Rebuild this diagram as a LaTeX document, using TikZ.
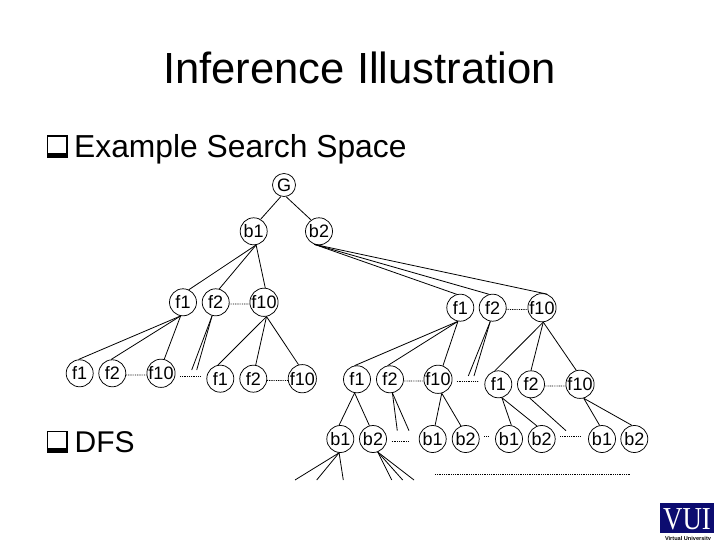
\documentclass[tikz,border=0pt]{standalone}
\usepackage{fontspec}
\setmainfont{Liberation Sans}
\newfontfamily\logoserif{Liberation Serif}
\definecolor{logonavy}{RGB}{12,12,112}
\tikzset{
  x=1pt,y=-1pt,
  tn/.style={circle,draw=black,line width=0.75pt,minimum size=27pt,inner sep=0pt,font=\fontsize{18}{20}\selectfont},
  edge/.style={draw=black,line width=0.8pt},
  dots/.style={draw=black,line width=0.8pt,dash pattern=on 0.9pt off 0.9pt},
  headline/.style={inner sep=0pt,anchor=base west},
}
\begin{document}
\begin{tikzpicture}
\useasboundingbox (0,0) rectangle (720,540);
% text
\node[inner sep=0pt,anchor=base] (title) at (359.5,84) {\fontsize{43.6}{46}\selectfont Inference Illustration};
\node[headline] (h1) at (74,158) {\fontsize{31.8}{34}\selectfont Example Search Space};
\node[headline] (h2) at (74.5,452.7) {\fontsize{30}{32}\selectfont DFS};
% bullets
\foreach \n/\yy in {ba/135.5,bb/430.7}{
  \fill[black] (46.7,\yy) rectangle ++(21.6,22.3);
  \fill[white] (48.3,\yy+1.6) rectangle ++(17.6,15.6);
}
% nodes
\node[tn,minimum size=23pt] (G) at (284,185) {G};
\node[tn] (b1) at (253.7,231.3) {b1};
\node[tn] (b2) at (319,231.3) {b2};
\node[tn] (a1) at (183,302.3) {f1};
\node[tn] (a2) at (215.7,302.3) {f2};
\node[tn] (a3) at (264,302.3) {f10};
\node[tn] (c1) at (460.3,307.7) {f1};
\node[tn] (c2) at (492.7,307.7) {f2};
\node[tn] (c3) at (542,307.7) {f10};
\node[tn] (d1) at (79.7,373.3) {f1};
\node[tn] (d2) at (112.3,373.3) {f2};
\node[tn] (d3) at (161,373.3) {f10};
\node[tn] (e1) at (220.3,378.7) {f1};
\node[tn] (e2) at (253.3,378.7) {f2};
\node[tn] (e3) at (302.3,378.7) {f10};
\node[tn] (g1) at (357,379.3) {f1};
\node[tn] (g2) at (390,379.3) {f2};
\node[tn] (g3) at (438,379.3) {f10};
\node[tn] (k1) at (498.3,384.3) {f1};
\node[tn] (k2) at (531,384.3) {f2};
\node[tn] (k3) at (580,384.3) {f10};
\node[tn] (m1) at (340.3,439) {b1};
\node[tn] (m2) at (373,439) {b2};
\node[tn] (m3) at (432.7,439) {b1};
\node[tn] (m4) at (465.7,439) {b2};
\node[tn] (m5) at (509,439) {b1};
\node[tn] (m6) at (541.7,439) {b2};
\node[tn] (m7) at (602,439) {b1};
\node[tn] (m8) at (634.3,439) {b2};
% free ends
\coordinate (p1) at (191.7,370); \coordinate (p2) at (196.7,370);
\coordinate (q1) at (180,376);   \coordinate (q2) at (201,376);
\coordinate (p3) at (468.3,376); \coordinate (p4) at (474,376);
\coordinate (q3) at (456.7,381); \coordinate (q4) at (478.3,381);
\coordinate (p5) at (397.3,430.7); \coordinate (p6) at (409,430.7);
\coordinate (q5) at (391.7,441.3); \coordinate (q6) at (409.3,441.3);
\coordinate (q7) at (484,436);   \coordinate (q8) at (489.3,436);
\coordinate (p7) at (566,430.7);
\coordinate (q9) at (560,436.3); \coordinate (q10) at (580.7,436.3);
\coordinate (q11) at (435,474);  \coordinate (q12) at (630,474);
\coordinate (r1) at (295,480); \coordinate (r2) at (316.7,480); \coordinate (r3) at (343.3,480);
\coordinate (r4) at (391.7,480); \coordinate (r5) at (402.7,480); \coordinate (r6) at (414,480);
% solid connectors
\draw[edge] (G.-105) -- (b1.60);
\draw[edge] (G.-80) -- (b2.125);
\draw[edge] (b1.-80) -- (a1.65);
\draw[edge] (b1.-80) -- (a2.75);
\draw[edge] (b1.-80) -- (a3.85);
\draw[edge] (b2.-110) -- (c1.105);
\draw[edge] (b2.-110) -- (c2.105);
\draw[edge] (b2.-110) -- (c3.70);
\draw[edge] (a1.-100) -- (d1.95);
\draw[edge] (a1.-100) -- (d2.95);
\draw[edge] (a1.-100) -- (d3.77);
\draw[edge] (a2.-105) -- (p1);
\draw[edge] (a2.-105) -- (p2);
\draw[edge] (a3.-80) -- (e1.100);
\draw[edge] (a3.-80) -- (e2.80);
\draw[edge] (a3.-80) -- (e3.105);
\draw[edge] (c1.-100) -- (g1.100);
\draw[edge] (c1.-100) -- (g2.100);
\draw[edge] (c1.-100) -- (g3.70);
\draw[edge] (c2.-100) -- (p3);
\draw[edge] (c2.-100) -- (p4);
\draw[edge] (c3.-85) -- (k1.105);
\draw[edge] (c3.-85) -- (k2.90);
\draw[edge] (c3.-85) -- (k3.105);
\draw[edge] (g1.-100) -- (m1.95);
\draw[edge] (g1.-100) -- (m2.105);
\draw[edge] (g2.-80) -- (p5);
\draw[edge] (g2.-80) -- (p6);
\draw[edge] (g3.-75) -- (m3.80);
\draw[edge] (g3.-75) -- (m4.110);
\draw[edge] (k1.-75) -- (m5.80);
\draw[edge] (k1.-75) -- (m6.110);
\draw[edge] (k2.-95) -- (p7);
\draw[edge] (k3.-75) -- (m7.100);
\draw[edge] (k3.-75) -- (m8.100);
\draw[edge] (m1.-95) -- (r1);
\draw[edge] (m1.-95) -- (r2);
\draw[edge] (m1.-95) -- (r3);
\draw[edge] (m2.-70) -- (r4);
\draw[edge] (m2.-70) -- (r5);
\draw[edge] (m2.-70) -- (r6);
% dotted connectors
\draw[dots] (a2.-7) -- (a3.187);
\draw[dots] (d2.-7) -- (d3.187);
\draw[dots] (e2.-7) -- (e3.187);
\draw[dots] (g2.-7) -- (g3.187);
\draw[dots] (c2.-7) -- (c3.187);
\draw[dots] (k2.-7) -- (k3.187);
\draw[dots] (q1) -- (q2);
\draw[dots] (q3) -- (q4);
\draw[dots] (q5) -- (q6);
\draw[dots] (q7) -- (q8);
\draw[dots] (q9) -- (q10);
\draw[dots] (q11) -- (q12);
% logo
\fill[logonavy] (660,503) rectangle (714,533);
\node[inner sep=0pt,text=white,anchor=base,xscale=0.84] (vu) at (687,529) {\logoserif\fontsize{32}{32}\selectfont VUI};
\node[inner sep=0pt,anchor=base] (vt) at (688,540) {\fontsize{5.6}{6}\selectfont\bfseries Virtual University};
\end{tikzpicture}
\end{document}
